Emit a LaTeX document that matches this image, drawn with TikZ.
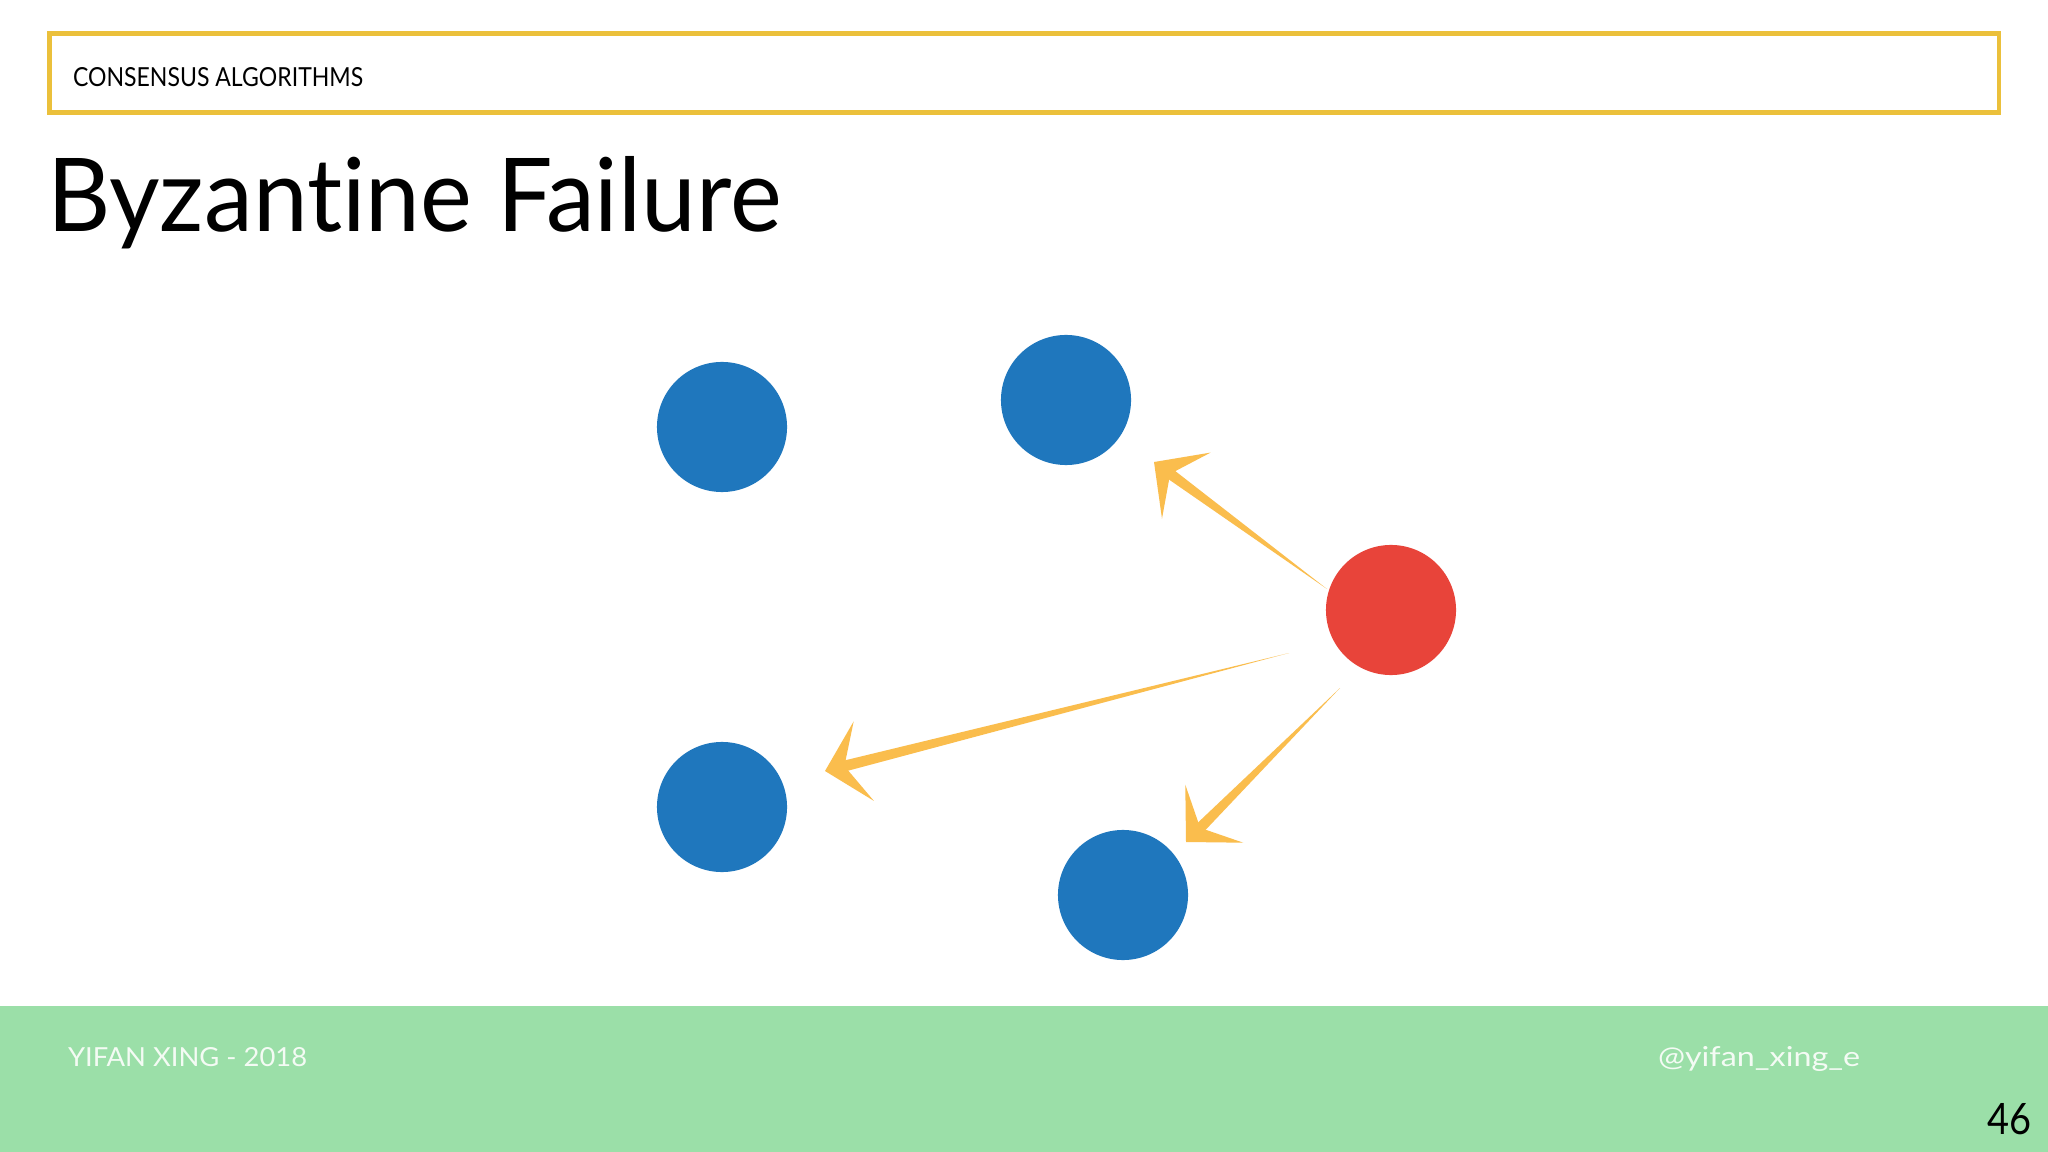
\documentclass[tikz,border=0pt]{standalone}
\usepackage{fontspec}
\setmainfont{Lato}[Ligatures={NoCommon}]
\usetikzlibrary{calc}
\definecolor{hdrgold}{HTML}{EBC03B}
\definecolor{nodeblue}{HTML}{1F77BD}
\definecolor{nodered}{HTML}{E8443A}
\definecolor{arrowgold}{HTML}{FABD4D}
\definecolor{footgreen}{HTML}{9BDFA8}
\definecolor{foottext}{HTML}{F4FBF4}
\newcommand\taperarrow[2]{%
  \fill[arrowgold] (#1) -- ($($(#2)!0.14cm!(#1)$)!0.055cm!90:(#2)$) -- ($($(#2)!0.14cm!(#1)$)!0.055cm!-90:(#2)$) -- cycle;
  \fill[arrowgold] (#2) -- ($($(#2)!0.40cm!(#1)$)!0.41cm!90:(#2)$) -- ($(#2)!0.20cm!(#1)$) -- ($($(#2)!0.40cm!(#1)$)!0.41cm!-90:(#2)$) -- cycle;
}
\tikzset{
  dot/.style={circle, minimum size=1.3cm, inner sep=0pt, outer sep=0pt},
  bluedot/.style={dot, fill=nodeblue},
  reddot/.style={dot, fill=nodered},
  txt/.style={inner sep=0pt, outer sep=0pt, anchor=base west},
}
\begin{document}
\begin{tikzpicture}[x=0.01cm, y=-0.01cm]
\useasboundingbox (0,0) rectangle (2048,1152);
\fill[white] (0,0) rectangle (2048,1152);
% header box
\draw[hdrgold, line width=0.045cm] (49.5,33.5) rectangle (1999,112.5);
\node[txt] (hdr) at (73,87) {\resizebox{2.9cm}{0.19cm}{CONSENSUS ALGORITHMS}};
% title
\node[txt] (title) at (47,232) {\resizebox{7.34cm}{0.75cm}{Byzant\kern0pt ine Failure}};
% footer
\fill[footgreen] (0,1006) rectangle (2048,1152);
\node[txt, text=foottext] (author) at (68,1066) {\resizebox{2.39cm}{0.19cm}{YIFAN XING - 2018}};
\node[txt, text=foottext] (handle) at (1658,1066) {\resizebox{2.02cm}{0.20cm}{@yifan\_xing\_e}};
\node[txt] (page) at (1987,1134) {\resizebox{0.44cm}{0.31cm}{46}};
% nodes
\node[bluedot] (b1) at (722,427) {};
\node[bluedot] (b2) at (1066,400) {};
\node[bluedot] (b3) at (722,807) {};
\node[bluedot] (b4) at (1123,895) {};
\node[reddot] (r) at (1391,610) {};
% arrow end points
\coordinate (s1) at ($(r)+(-64,-21)$);
\coordinate (t1) at ($(b2)+(88,62)$);
\coordinate (s2) at ($(r)+(-102,43)$);
\coordinate (t2) at ($(b3)+(103,-36)$);
\coordinate (s3) at ($(r)+(-51,78)$);
\coordinate (t3) at ($(b4)+(63,-53)$);
\taperarrow{s1}{t1}
\taperarrow{s2}{t2}
\taperarrow{s3}{t3}
\end{tikzpicture}
\end{document}
